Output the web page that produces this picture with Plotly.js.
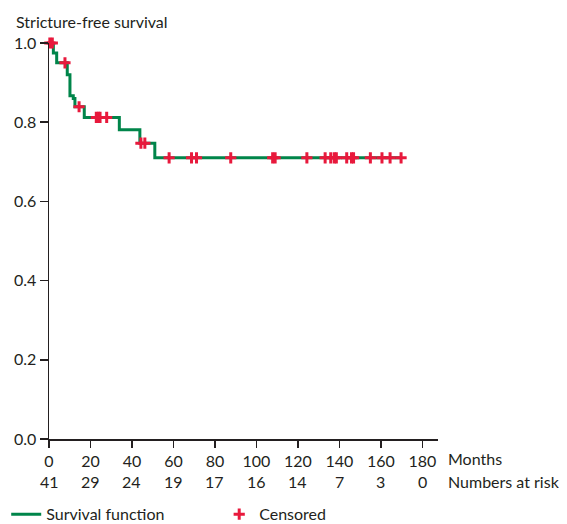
<!DOCTYPE html>
<html>
<head>
<meta charset="utf-8">
<script src="https://cdn.plot.ly/plotly-3.0.1.min.js"></script>
<style>html,body{margin:0;padding:0;background:#fff;}#chart{width:567px;height:524px;}</style>
</head>
<body>
<div id="chart"></div>
<script>
// Kaplan-Meier step function (event times and survival after each step)
const eventTimes = [0, 2.1, 3.7, 8.8, 10.1, 11.7, 12.5, 17.0, 33.9, 43.8, 51.0, 170];
const survival   = [1.0, 0.975, 0.950, 0.920, 0.867, 0.860, 0.839, 0.812, 0.781, 0.747, 0.710, 0.710];
// Censored observation times (months)
const censorTimes = [0.4, 1.6, 7.7, 14.5, 22.8, 23.8, 24.6, 27.8, 44.3, 46.2, 57.9, 68.7, 71.1, 87.6,
  107.8, 109.0, 124.3, 133.1, 135.8, 137.5, 138.5, 143.5, 145.8, 146.8, 154.9, 160.5, 164.4, 169.7];
// Numbers at risk
const riskTimes = [0, 20, 40, 60, 80, 100, 120, 140, 160, 180];
const riskCounts = [41, 29, 24, 19, 17, 16, 14, 7, 3, 0];
const xTicks = [0, 20, 40, 60, 80, 100, 120, 140, 160, 180];
const yTicks = [0, 0.2, 0.4, 0.6, 0.8, 1.0];
const yTickText = ['0.0', '0.2', '0.4', '0.6', '0.8', '1.0'];

function survAt(t) {
  let s = survival[0];
  for (let i = 0; i < eventTimes.length; i++) { if (eventTimes[i] <= t) s = survival[i]; }
  return s;
}
const censorSurv = censorTimes.map(survAt);

const FONT = 'Lato, "Open Sans", sans-serif';
const TXT = '#231f20';
const GREEN = '#00854a';
const RED = '#e8193c';

const traces = [
  { x: eventTimes, y: survival, type: 'scatter', mode: 'lines', line: { shape: 'hv', color: GREEN, width: 3 },
    name: 'Survival function', cliponaxis: false },
  { x: censorTimes, y: censorSurv, type: 'scatter', mode: 'markers',
    marker: { symbol: 'cross-thin', size: 8, color: RED, line: { color: RED, width: 3 } },
    name: 'Censored', cliponaxis: false }
];

const annotations = [
  { text: 'Stricture-free survival', xref: 'paper', yref: 'paper', x: -0.09, y: 1.025, xanchor: 'left', yanchor: 'bottom',
    showarrow: false, font: { family: FONT, size: 16, color: TXT } },
  { text: 'Months', xref: 'paper', yref: 'paper', x: 1.02, y: -0.05, xanchor: 'left', yanchor: 'middle',
    showarrow: false, font: { family: FONT, size: 16, color: TXT } },
  { text: 'Numbers at risk', xref: 'paper', yref: 'paper', x: 1.02, y: -0.108, xanchor: 'left', yanchor: 'middle',
    showarrow: false, font: { family: FONT, size: 16, color: TXT } }
];
riskTimes.forEach((t, i) => {
  annotations.push({ text: String(riskCounts[i]), xref: 'x', yref: 'paper', x: t, y: -0.108, xanchor: 'center', yanchor: 'middle',
    showarrow: false, font: { family: FONT, size: 16, color: TXT } });
});

const layout = {
  width: 567, height: 524,
  margin: { l: 49, r: 129, t: 43, b: 85, autoexpand: false },
  paper_bgcolor: '#fff', plot_bgcolor: '#fff',
  font: { family: FONT, size: 16, color: TXT },
  showlegend: true,
  legend: { orientation: 'h', x: -0.11, y: -0.19, xanchor: 'left', yanchor: 'middle', font: { family: FONT, size: 16, color: TXT },
    itemwidth: 30, tracegroupgap: 0, entrywidth: 168, bgcolor: 'rgba(0,0,0,0)' },
  xaxis: { range: [0, 187.5], tickvals: xTicks, ticktext: xTicks.map(String), showgrid: false, zeroline: false,
    showline: true, linecolor: TXT, linewidth: 1.5, ticks: 'outside', ticklen: 7, tickcolor: TXT, tickwidth: 1.5,
    tickfont: { family: FONT, size: 16, color: TXT }, fixedrange: true, automargin: false },
  yaxis: { range: [0, 1.0], tickvals: yTicks, ticktext: yTickText, showgrid: false, zeroline: false,
    showline: true, linecolor: TXT, linewidth: 1.5, ticks: 'outside', ticklen: 8, tickcolor: TXT, tickwidth: 1.5,
    tickfont: { family: FONT, size: 16, color: TXT }, fixedrange: true, automargin: false },
  annotations: annotations
};

Plotly.newPlot('chart', traces, layout, { displayModeBar: false, staticPlot: true });
</script>
</body>
</html>
